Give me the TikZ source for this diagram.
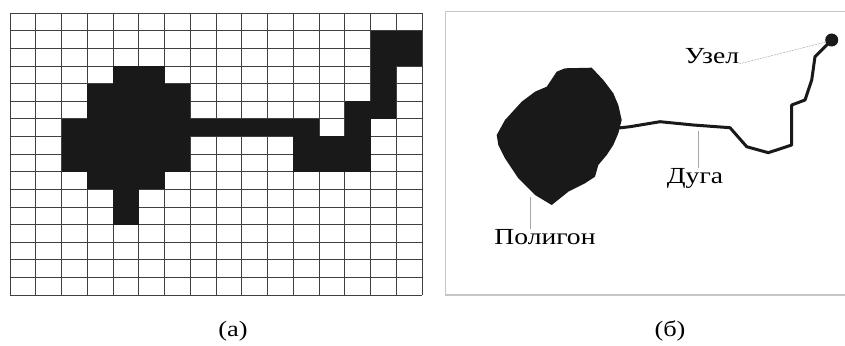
\documentclass[tikz,border=0pt]{standalone}
\usepackage{fontspec}
\setmainfont[FakeStretch=1.2]{Liberation Serif}
\tikzset{
  lbl/.style={inner sep=0pt,font=\fontsize{23}{26}\selectfont},
  captext/.style={inner sep=0pt,font=\fontsize{22}{26}\selectfont},
  leader/.style={gray!70,line width=0.5pt},
}
\begin{document}
\begin{tikzpicture}[x=1pt,y=-1pt]
  \useasboundingbox (0,0) rectangle (845,345);
  % (a) raster
  \begin{scope}[shift={(10,13)},x=25.75pt,y=-17.625pt]
    \foreach \i in {0,...,16} {
      \draw[black!75,line width=0.7pt] (\i,0) -- (\i,16);
      \draw[black!75,line width=0.7pt] (0,\i) -- (16,\i);
    }
    \foreach \r/\a/\b in {1/14/15,2/14/15,3/4/5,3/14/14,4/3/6,4/14/14,5/3/6,5/13/14,
      6/2/11,6/13/13,7/2/6,7/11/13,8/2/6,8/11/13,9/3/5,10/4/4,11/4/4}
      \fill[black!90] (\a,\r) rectangle (\b+1,\r+1);
  \end{scope}
  % (b) vector
  \draw[gray!45,line width=1pt] (846,12) -- (445,12) -- (445,295);
  \draw[gray!45,line width=2pt] (445,295) -- (846,295);
  \fill[black!90] (496.7,135) -- (505,120) -- (521.7,101.7) -- (535,91.7) -- (546.7,86.7)
    -- (556.7,71.7) -- (565,68.3) -- (591.7,67.7) -- (603.3,80) -- (613.3,93.3) -- (618.3,105)
    -- (621.7,120) -- (618.3,133.3) -- (613.3,145) -- (606.7,155) -- (598.3,165) -- (595,176.7)
    -- (585,183.3) -- (568.3,191.7) -- (551.7,205) -- (535,195) -- (518.3,178.3) -- (505,158.3)
    -- (498.3,145) -- cycle;
  \draw[black!90,line width=3pt,line join=round] (616,128.3) -- (630,126.7) -- (660,121.7)
    -- (693.3,125) -- (730,127.7) -- (746.7,146.7) -- (768.3,152.7) -- (791.7,145) -- (791.7,105)
    -- (805,100) -- (811.7,80) -- (815,56.7) -- (825,46.7) -- (831.7,40);
  \fill[black!90] (831.7,40) circle[radius=6.5];
  \coordinate (node) at (826,42);
  \coordinate (arc) at (698,131);
  \coordinate (poly) at (530,197);
  \node[lbl] (uzel) at (712,56) {Узел};
  \node[lbl] (duga) at (695,178) {Дуга};
  \node[lbl] (poligon) at (545,237) {Полигон};
  \draw[leader,dash pattern=on 2pt off 1pt] (uzel.south east) -- (node);
  \draw[leader] (duga.north) ++(3,0) -- (arc);
  \draw[leader] (poligon.north) ++(-15,0) -- (poly);
  % captions
  \node[captext] (capa) at (233,331) {(а)};
  \node[captext] (capb) at (670,331) {(б)};
\end{tikzpicture}
\end{document}
